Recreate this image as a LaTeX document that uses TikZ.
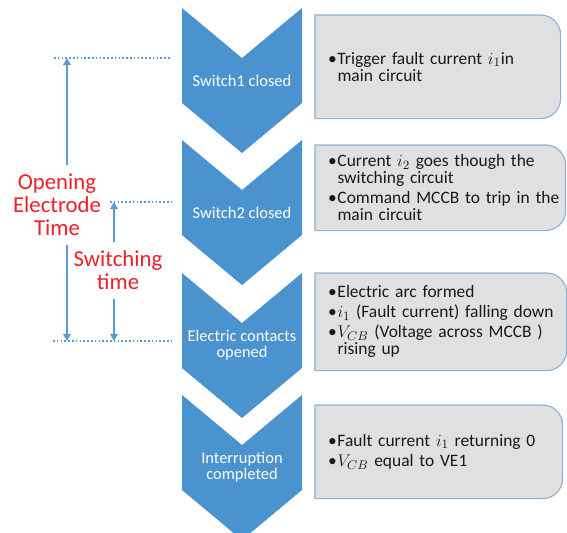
\documentclass[tikz,border=0pt]{standalone}
\usepackage{fontspec}
\setmainfont{Carlito}
\usetikzlibrary{arrows.meta,backgrounds,positioning}
\definecolor{chevblue}{HTML}{4A93CE}
\definecolor{boxgray}{HTML}{E0E0E0}
\definecolor{boxedge}{HTML}{8DB0D8}
\definecolor{lineblue}{HTML}{5B9BD5}
\definecolor{timered}{HTML}{F01E28}
\tikzstyle{chevron}=[fill=chevblue, draw=none]
\tikzstyle{steplabel}=[text=white, align=center, font=\fontsize{11.7}{11.5}\selectfont]
\tikzstyle{infobox}=[inner sep=0pt, align=left, text=black!90, font=\fontsize{12.4}{12.1}\selectfont\setlength{\parskip}{2.2pt}]
\tikzstyle{boxline}=[fill=boxgray, draw=boxedge, line width=0.8pt]
\tikzstyle{timelabel}=[text=timered, align=center, inner sep=6pt, font=\fontsize{16.2}{16.4}\selectfont]
\tikzstyle{timearrow}=[draw=lineblue, line width=0.8pt, -{Triangle[length=5pt,width=5.5pt]}]
\tikzstyle{marker}=[draw=lineblue, line width=1.2pt, dash pattern=on 1.2pt off 1.5pt]
% one bullet point with hanging indent
\newcommand{\bitem}[1]{\leftskip=9.2pt\hangindent=6.6pt\hangafter=1\noindent\makebox[6.6pt][l]{\textbullet}#1\par}

\begin{document}
\begin{tikzpicture}[x=0.025cm,y=0.025cm]
\clip (0,0) rectangle (567,-533);
%Chevrons
\foreach \yt/\name/\txt in {8/s1/Switch1 closed, 140/s2/Switch2 closed, 273/s3/Electric contacts\\opened, 395/s4/Interruption\\completed}{
  \fill[chevron] (182,-\yt) -- ++(60,-50) -- ++(60,50) -- ++(0,-95) -- ++(-60,-50) -- ++(-60,50) -- cycle;
  \node[steplabel] (\name) at (242,{-\yt-72.5}) {\txt};
}
%Boxes
\node[infobox, anchor=north west, text width=6.125cm, minimum height=2.575cm] (b1) at (315,-15)
  {\bitem{Trigger fault current $i_1$in\newline main circuit}};
\node[infobox, anchor=north west, text width=6.25cm, minimum height=2.125cm] (b2) at (315,-145)
  {\bitem{Current $i_2$ goes though the\newline switching circuit}
   \bitem{Command MCCB to trip in the\newline main circuit}};
\node[infobox, anchor=north west, text width=6.275cm, minimum height=2.425cm] (b3) at (315,-273)
  {\bitem{Electric arc formed}
   \bitem{$i_1$ (Fault current) falling down}
   \bitem{$V_{CB}$ (Voltage across MCCB )\newline rising up}};
\node[infobox, anchor=north west, text width=6.175cm, minimum height=2.325cm] (b4) at (315,-405)
  {\bitem{Fault current $i_1$ returning 0}
   \bitem{$V_{CB}$ equal to VE1}};
%background
\begin{scope}[on background layer]
\foreach \b in {b1,b2,b3,b4}
  \draw[boxline] (\b.south west) -- (\b.north west) -- ([xshift=-0.5cm]\b.north east)
    arc[start angle=90,end angle=0,radius=0.5cm] -- ([yshift=0.5cm]\b.south east)
    arc[start angle=0,end angle=-90,radius=0.5cm] -- cycle;
\end{scope}
%Time marks
\coordinate (d1) at (54,-58);
\coordinate (d2) at (110,-202);
\coordinate (d3) at (53,-341);
\draw[marker] (d1) -- ++(117,0);
\draw[marker] (d2) -- ++(62,0);
\draw[marker] (d3) -- ++(119,0);
\coordinate (o1) at (67,-58);
\coordinate (o2) at (67,-341);
\coordinate (w1) at (114,-202);
\coordinate (w2) at (114,-341);
\node[timelabel] (open) at (57,-205) {Opening\\Electrode\\Time};
\node[timelabel] (swt) at (118,-270.5) {Switching\\time};
\draw[timearrow] (open.north -| o1) -- (o1);
\draw[timearrow] (open.south -| o2) -- (o2);
\draw[timearrow] (swt.north -| w1) -- (w1);
\draw[timearrow] (swt.south -| w2) -- (w2);
\end{tikzpicture}
\end{document}
